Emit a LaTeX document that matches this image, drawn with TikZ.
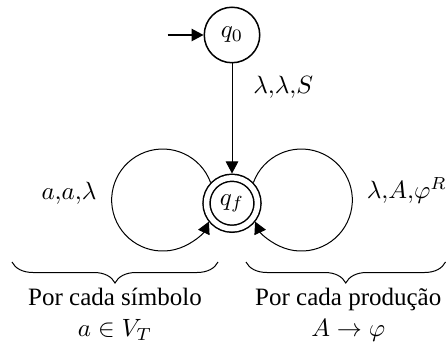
\documentclass[tikz,border=0pt]{standalone}
\usepackage{fontspec}
\setmainfont{Liberation Serif}
\usepackage{tikz}
\usetikzlibrary{positioning,arrows.meta,decorations.pathreplacing}

\tikzset{
  stateq/.style={circle,draw,line width=0.6pt,minimum size=22.2pt,inner sep=0pt},
  finalq/.style={circle,draw,line width=0.6pt,double,double distance=2.2pt,
    minimum size=20.4pt,inner sep=0pt,outer sep=1.7pt},
  brc/.style={decorate,decoration={brace,mirror,amplitude=8.4pt},line width=0.4pt},
}

\begin{document}
\begin{tikzpicture}[>={Triangle[length=4.8pt,width=5pt]},node distance=44pt]
\useasboundingbox (-92.8pt,14pt) rectangle (85.6pt,-124.4pt);
\node[stateq] (q0) {$q_0$};
\node[finalq] (qf) [below=of q0] {$q_f$};
\coordinate[left=14.4pt of q0] (init);
\draw[->,line width=0.5pt] (init) -- (q0);
\draw[->,line width=0.4pt] (q0) -- (qf) node[pos=0.22,right=5pt] (lbltr) {$\lambda{,}\lambda{,}S$};
% loops
\draw[->,line width=0.4pt] (qf.136) arc[start angle=20,end angle=335,radius=20.4pt];
\draw[->,line width=0.4pt] (qf.44) arc[start angle=160,end angle=-155,radius=20.4pt];
\node (lblsym) [left=38.8pt of qf,yshift=4pt] {$a{,}a{,}\lambda$};
\node (lblprod) [right=38.5pt of qf,yshift=5pt] {$\lambda{,}A{,}\varphi^R$};
% braces
\coordinate (bsl) at (-88pt,-90.8pt);
\coordinate (bsr) at (-5.6pt,-90.8pt);
\coordinate (bpl) at (5.6pt,-90.8pt);
\coordinate (bpr) at (85.4pt,-90.8pt);
\draw[brc] (bsl) -- (bsr) node[midway,below=6.8pt,align=center] (txtsym) {Por cada símbolo\\[0.5pt]$a\in V_T$};
\draw[brc] (bpl) -- (bpr) node[midway,below=6.8pt,xshift=1pt,align=center] (txtprod) {Por cada produção\\[0.5pt]$A\to\varphi$};
\end{tikzpicture}
\end{document}
